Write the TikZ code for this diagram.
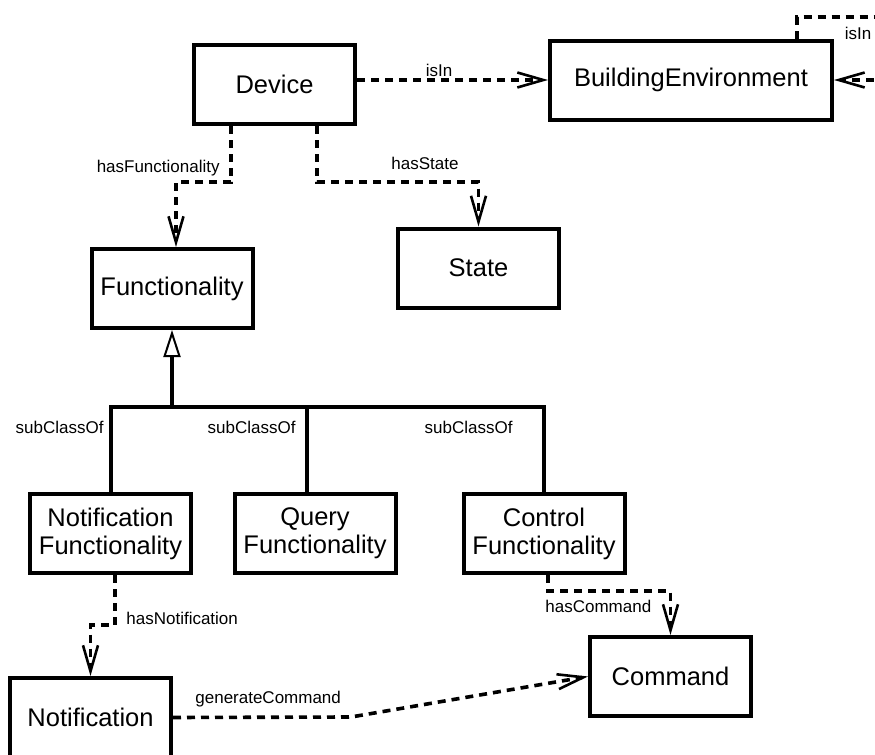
\documentclass[tikz,border=0pt]{standalone}
\usepackage{fontspec}
\setmainfont{Liberation Sans}
\usetikzlibrary{arrows.meta,calc}
\tikzset{
	box/.style={draw, line width=2pt, minimum width=80.5pt, minimum height=39.5pt,
			inner sep=0pt, align=center, font=\fontsize{12.75}{14}\selectfont},
	lbl/.style={font=\fontsize{8.5}{10}\selectfont, inner sep=0pt},
	dep/.style={line width=1.8pt, dash pattern=on 4pt off 3pt,
			-{Straight Barb[length=13pt, width=7.5pt, line width=1.3pt]}},
	link/.style={line width=2pt},
	gen/.style={line width=2pt, -{Triangle[fill=white, length=13.5pt, width=8.5pt, line width=1pt]}}
}

\begin{document}
\begin{tikzpicture}[x=0.5pt, y=-0.5pt, line join=miter]
    \useasboundingbox (0,0) rectangle (875,755);

    \node[box] (dev) at (274.5,84.5) {Device};
    \node[box, minimum width=141pt] (env) at (691,80) {BuildingEnvironment};
    \node[box] (fun) at (172,288.5) {Functionality};
    \node[box] (st)  at (478.5,268) {State};
    \node[box] (nf)  at (110.5,533.5) {Notification\\Functionality};
    \node[box] (qf)  at (315,533.5) {Query\\Functionality};
    \node[box] (cf)  at (544,533.5) {Control\\Functionality};
    \node[box] (ntf) at (90.5,717.5) {Notification};
    \node[box] (cmd) at (670.5,676.5) {Command};

    \coordinate (lp1) at (797,17);
    \coordinate (lp2) at (905,17);
    \coordinate (hf1) at (231,182);
    \coordinate (hf2) at (176,182);
    \coordinate (hs1) at (317,182);
    \coordinate (bar) at (172,407);
    \coordinate (qtop) at (307,407);
    \coordinate (hn1) at (115,625);
    \coordinate (hc1) at (548,591);
    \coordinate (gc1) at (351,717);

    % isIn
    \draw[dep] (dev.east |- env.west) -- node[lbl, above=1pt, pos=0.43] {isIn} (env.west);
    \draw[dep] (env.north -| lp1) -- (lp1) -- (lp2) -- (lp2 |- env.east) -- (env.east);
    \node[lbl] (isinlbl) at (858,33) {isIn};

    % hasFunctionality, hasState
    \draw[dep] (dev.south -| hf1) -- (hf1) -- (hf2) -- (fun.north -| hf2);
    \node[lbl, anchor=east] (hflbl) at (220,168) {hasFunctionality};
    \draw[dep] (dev.south -| hs1) -- (hs1) -| (st.north);
    \node[lbl] (hslbl) at (425,163) {hasState};

    % subClassOf
    \draw[gen] (bar) -- (fun.south);
    \draw[link] (nf.north) -- (nf.north |- bar) -- (cf.north |- bar) -- (cf.north);
    \draw[link] (qtop) -- (qtop |- qf.north);
    \node[lbl, anchor=east] (sc1) at (104,427) {subClassOf};
    \node[lbl, anchor=east] (sc2) at (296,427) {subClassOf};
    \node[lbl, anchor=east] (sc3) at (513,427) {subClassOf};

    % hasNotification, hasCommand, generateCommand
    \draw[dep] (nf.south -| hn1) -- (hn1) -| (ntf.north);
    \node[lbl, anchor=west] (hnlbl) at (126,618) {hasNotification};
    \draw[dep] (cf.south -| hc1) -- (hc1) -| (cmd.north);
    \node[lbl, anchor=west] (hclbl) at (545,606) {hasCommand};
    \draw[dep] (ntf.east) -- (gc1) -- (cmd.west);
    \node[lbl, anchor=west] (gclbl) at (195,699) {generateCommand};
\end{tikzpicture}
\end{document}
